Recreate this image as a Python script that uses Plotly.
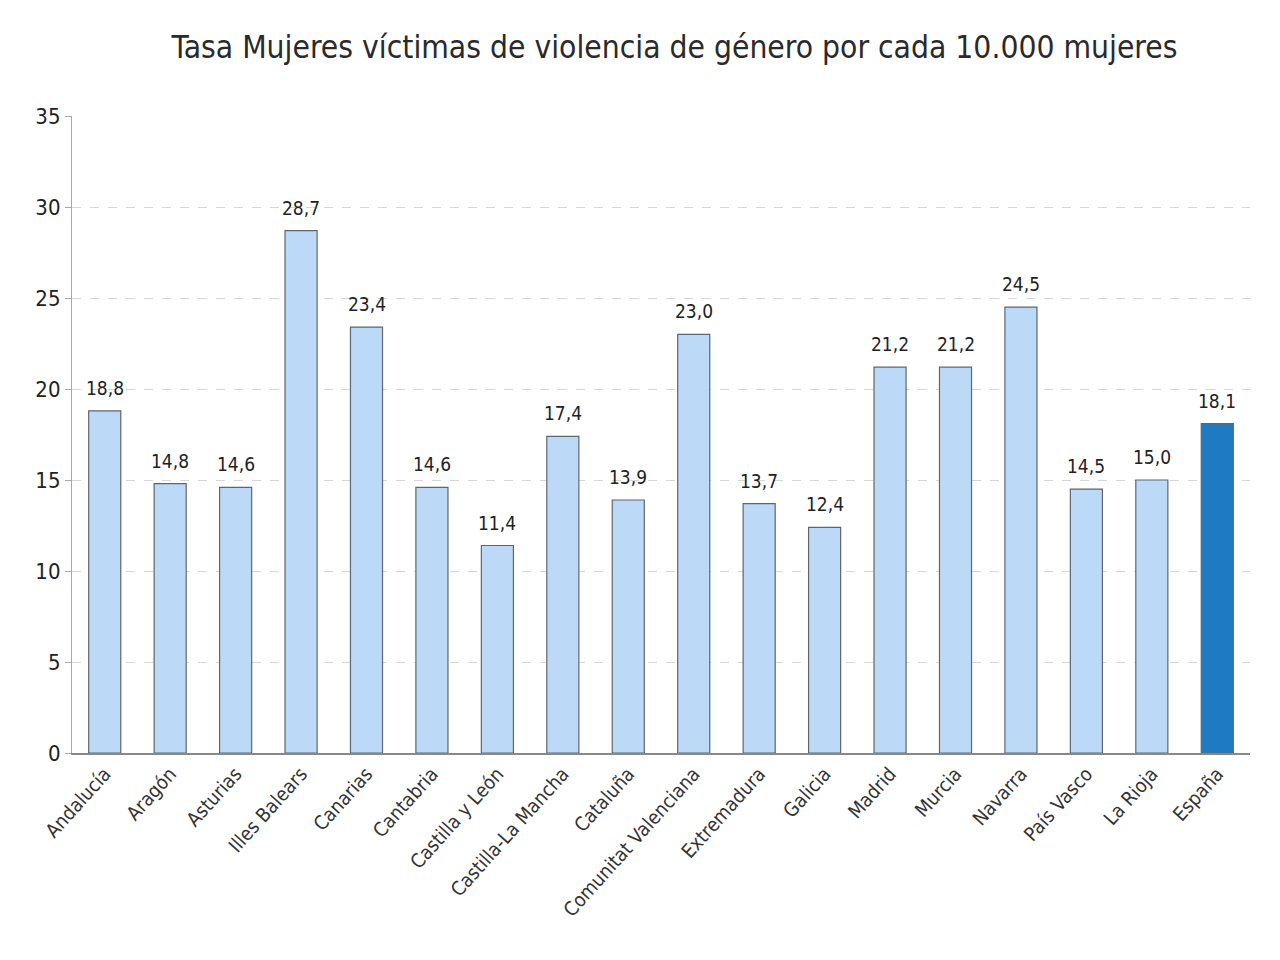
import plotly.graph_objects as go

categories = ["Andalucía", "Aragón", "Asturias", "Illes Balears", "Canarias", "Cantabria",
              "Castilla y León", "Castilla-La Mancha", "Cataluña", "Comunitat Valenciana",
              "Extremadura", "Galicia", "Madrid", "Murcia", "Navarra", "País Vasco",
              "La Rioja", "España"]
values = [18.8, 14.8, 14.6, 28.7, 23.4, 14.6, 11.4, 17.4, 13.9, 23.0,
          13.7, 12.4, 21.2, 21.2, 24.5, 14.5, 15.0, 18.1]
y_ticks = [0, 5, 10, 15, 20, 25, 30, 35]

light = "#BCDAF8"
dark = "#1E7BC3"
colors = [dark if c == "España" else light for c in categories]

FONT = "DejaVu Sans Condensed, DejaVu Sans, sans-serif"

fig = go.Figure(go.Bar(
    x=categories, y=values,
    marker=dict(color=colors, line=dict(color="#5E6670", width=1.2)),
    hoverinfo="x+y",
))

for c, v in zip(categories, values):
    fig.add_annotation(x=c, y=v, text=f"{v:.1f}".replace(".", ","),
                       showarrow=False, yanchor="bottom", yshift=10,
                       font=dict(size=19, color="#222222", family=FONT))

fig.update_layout(
    width=1280, height=960,
    margin=dict(l=72, r=30, t=116, b=207),
    paper_bgcolor="white", plot_bgcolor="white",
    separators=",.",
    bargap=0.51,
    showlegend=False,
    font=dict(family=FONT, color="#222222"),
    title=dict(text="Tasa Mujeres víctimas de violencia de género por cada 10.000 mujeres",
               x=0.527, xanchor="center", y=0.951, yanchor="middle",
               font=dict(size=31.5, color="#2A2A2A", family=FONT)),
    xaxis=dict(showline=True, linecolor="#888888", linewidth=1.5,
               tickangle=-48, tickfont=dict(size=19.5, color="#333333"),
               ticks="", showgrid=False),
    yaxis=dict(range=[0, 35], tickvals=y_ticks, showline=True, linecolor="#AAAAAA",
               linewidth=1.2, ticks="outside", ticklen=6, tickcolor="#AAAAAA",
               tickfont=dict(size=22, color="#222222"),
               showgrid=True, gridcolor="#D6D6D6", griddash="dash", gridwidth=1,
               zeroline=False),
)

fig.write_html("out.html")
